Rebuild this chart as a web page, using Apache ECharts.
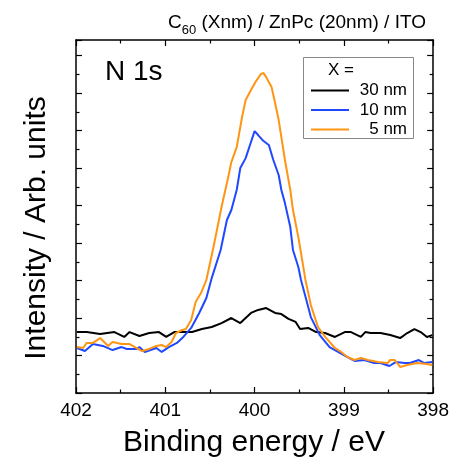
<!DOCTYPE html>
<html>
<head>
<meta charset="utf-8">
<script src="https://cdn.jsdelivr.net/npm/echarts@6/dist/echarts.min.js"></script>
<style>
html,body{margin:0;padding:0;background:#fff;}
#chart{width:452px;height:464px;}
</style>
</head>
<body>
<div id="chart"></div>
<script>
// Binding energy (eV) and intensity (arb. units)
const seriesNames = ['30 nm', '10 nm', '5 nm'];
const seriesColors = ['#000000', '#1f48ff', '#ff9514'];

const e30 = [401.99,401.88,401.73,401.57,401.46,401.40,401.29,401.18,401.07,400.99,400.90,400.70,400.59,400.48,400.37,400.26,400.16,400.04,399.96,399.87,399.77,399.70,399.62,399.54,399.49,399.40,399.31,399.21,399.10,398.99,398.92,398.81,398.76,398.70,398.59,398.48,398.37,398.29,398.21,398.14,398.07,398.01];
const i30 = [32.5,32.5,31.5,32.5,29.9,32.5,30.4,32.0,32.5,29.9,32.5,32.5,34.1,35.2,37.3,40.0,37.3,42.7,44.3,45.3,42.7,42.1,39.5,37.9,34.1,34.7,32.5,32.0,29.9,32.5,32.5,29.9,32.5,32.0,32.0,30.9,29.3,32.0,34.1,32.5,29.9,30.9];

const e10 = [401.99,401.90,401.81,401.70,401.59,401.49,401.43,401.32,401.29,401.23,401.10,401.04,400.96,400.87,400.81,400.71,400.62,400.54,400.48,400.38,400.31,400.26,400.20,400.16,400.10,400.04,400.00,399.96,399.90,399.84,399.79,399.73,399.70,399.66,399.60,399.57,399.51,399.48,399.42,399.37,399.27,399.16,399.04,398.96,398.88,398.77,398.66,398.59,398.49,398.42,398.32,398.26,398.16,398.10,398.01];
const i10 = [24.0,22.4,26.1,25.1,22.9,24.5,23.5,23.5,24.5,21.9,24.0,21.9,24.5,26.7,29.3,34.7,42.7,50.7,61.3,76.3,92.3,97.6,108.3,120.0,125.3,133.9,139.7,137.6,134.4,132.3,124.3,116.3,108.3,101.3,88.5,76.3,67.2,60.3,49.6,40.5,30.9,24.5,21.3,19.2,17.1,17.6,16.0,16.0,14.4,16.5,16.0,16.0,17.6,16.0,16.5];

const e5 = [401.99,401.92,401.88,401.81,401.73,401.64,401.59,401.49,401.40,401.32,401.26,401.18,401.10,401.04,400.99,400.93,400.88,400.81,400.77,400.71,400.66,400.60,400.54,400.46,400.37,400.29,400.26,400.20,400.14,400.10,400.04,399.99,399.93,399.90,399.87,399.81,399.77,399.73,399.70,399.66,399.60,399.57,399.51,399.43,399.37,399.29,399.21,399.10,399.03,398.96,398.88,398.81,398.73,398.62,398.51,398.48,398.43,398.37,398.29,398.18,398.07,398.01];
const i5 = [24.5,24.0,26.7,26.7,29.3,25.1,27.2,26.1,26.1,24.0,22.4,23.5,25.1,25.6,24.5,27.2,32.0,33.6,34.1,38.9,48.5,53.3,60.3,77.9,99.2,116.3,123.2,131.2,147.2,156.3,161.6,165.9,170.1,170.7,168.5,163.2,154.7,145.6,136.5,124.3,108.3,97.6,83.2,60.3,46.9,35.2,29.9,24.0,21.9,19.2,17.6,18.7,17.6,16.5,16.0,17.6,17.6,13.9,14.9,16.0,15.5,14.9];

const xMin = 398, xMax = 402, xInterval = 1;
const yMin = 0, yMax = 188.3, yInterval = 20;

const energies = [e30, e10, e5];
const intens = [i30, i10, i5];

const FONT = '"Liberation Sans", Arial, sans-serif';

function pairs(xs, ys) { return xs.map((x, k) => [x, ys[k]]); }

const axisCommonX = {
  type: 'value', min: xMin, max: xMax, interval: xInterval, inverse: true,
  axisLine: { show: true, onZero: false, lineStyle: { color: '#000', width: 1.5 } },
  axisTick: { show: true, inside: true, length: 6, lineStyle: { color: '#000', width: 1.2 } },
  minorTick: { show: true, splitNumber: 2, length: 3.5, lineStyle: { color: '#000', width: 1.2 } },
  splitLine: { show: false }
};
const axisCommonY = {
  type: 'value', min: yMin, max: yMax, interval: yInterval,
  axisLine: { show: true, onZero: false, lineStyle: { color: '#000', width: 1.5 } },
  axisTick: { show: true, inside: true, length: 6, lineStyle: { color: '#000', width: 1.2 } },
  minorTick: { show: true, splitNumber: 2, length: 3.5, lineStyle: { color: '#000', width: 1.2 } },
  axisLabel: { show: false },
  splitLine: { show: false }
};

const chart = echarts.init(document.getElementById('chart'), null, { renderer: 'canvas' });
chart.setOption({
  animation: false,
  backgroundColor: '#fff',
  grid: { left: 76, right: 16, top: 40, bottom: 71, containLabel: false },
  xAxis: [
    Object.assign({}, axisCommonX, {
      position: 'bottom',
      axisLabel: { show: true, margin: 8, fontSize: 19, color: '#000', fontFamily: FONT,
        formatter: v => String(Math.round(v)) }
    }),
    Object.assign({}, axisCommonX, { position: 'top', axisLabel: { show: false } })
  ],
  yAxis: [
    Object.assign({}, axisCommonY, { position: 'left' }),
    Object.assign({}, axisCommonY, { position: 'right' })
  ],
  legend: {
    orient: 'vertical', left: 311, top: 82, padding: 0, itemGap: 2.5,
    itemWidth: 38, itemHeight: 2, icon: 'rect',
    data: seriesNames,
    formatter: name => '{a|' + name + '}',
    textStyle: { fontFamily: FONT, fontSize: 17, color: '#000',
      rich: { a: { width: 53, align: 'right', fontSize: 17, lineHeight: 17, fontFamily: FONT } } }
  },
  series: seriesNames.map((name, k) => ({
    name: name, type: 'line', xAxisIndex: 0, yAxisIndex: 0,
    data: pairs(energies[k], intens[k]),
    showSymbol: false, symbol: 'none', smooth: false,
    lineStyle: { color: seriesColors[k], width: 2 },
    itemStyle: { color: seriesColors[k] },
    z: 2 + k
  })),
  graphic: [
    { type: 'rect', shape: { x: 303.5, y: 57.5, width: 110, height: 81 },
      style: { fill: 'none', stroke: '#888', lineWidth: 1 }, z: 1 },
    { type: 'text', x: 328, y: 70,
      style: { text: 'X =', fontSize: 17, fontFamily: FONT, fill: '#000', align: 'left', verticalAlign: 'middle' } },
    { type: 'text', x: 105, y: 72,
      style: { text: 'N 1s', fontSize: 28, fontFamily: FONT, fill: '#000', align: 'left', verticalAlign: 'middle' } },
    { type: 'text', x: 168, y: 9,
      style: {
        text: '{m|C}{s|60}{m| (Xnm) / ZnPc (20nm) / ITO}',
        fontFamily: FONT, fill: '#000', align: 'left', verticalAlign: 'top',
        rich: {
          m: { fontSize: 19, lineHeight: 28, fontFamily: FONT, fill: '#000' },
          s: { fontSize: 13, lineHeight: 13, verticalAlign: 'bottom', fontFamily: FONT, fill: '#000' }
        }
      } },
    { type: 'text', x: 254, y: 443,
      style: { text: 'Binding energy / eV', fontSize: 30, fontFamily: FONT, fill: '#000', align: 'center', verticalAlign: 'middle' } },
    { type: 'text', x: 37, y: 228, rotation: Math.PI / 2,
      style: { text: 'Intensity / Arb. units', fontSize: 30, fontFamily: FONT, fill: '#000', align: 'center', verticalAlign: 'middle' } }
  ]
});
</script>
</body>
</html>
